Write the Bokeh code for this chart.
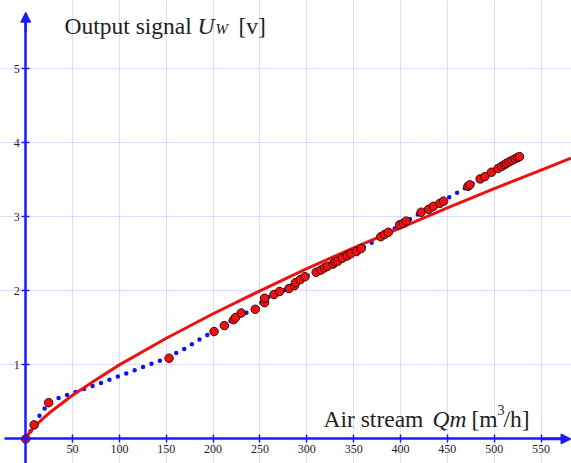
from bokeh.plotting import figure
from bokeh.models import FixedTicker, Label, Arrow, NormalHead
from bokeh.embed import file_html
from bokeh.resources import INLINE

# measured points (air stream Qm [m3/h], output signal Uw [V])
meas_q = [0, 9, 24.5, 153, 201, 212, 222, 224, 230, 245, 255, 255, 265, 271, 281, 287, 288,
          293, 298, 310, 315, 319, 322, 328, 330, 333, 338, 343, 347, 353, 358, 379, 383, 387,
          399, 403, 406, 422, 430, 435, 442, 446, 472, 474, 485, 490, 497, 504, 508, 511, 513,
          516, 519, 522, 525, 527]
meas_u = [0, 0.19, 0.49, 1.09, 1.45, 1.53, 1.61, 1.64, 1.70, 1.75, 1.84, 1.90, 1.95, 1.99, 2.03,
          2.07, 2.11, 2.15, 2.19, 2.25, 2.28, 2.31, 2.33, 2.36, 2.39, 2.40, 2.44, 2.47, 2.50, 2.53,
          2.57, 2.73, 2.76, 2.79, 2.89, 2.91, 2.94, 3.06, 3.10, 3.14, 3.18, 3.21, 3.41, 3.43, 3.51,
          3.54, 3.60, 3.65, 3.68, 3.70, 3.72, 3.74, 3.76, 3.78, 3.80, 3.81]

# interpolated characteristic (blue dotted)
curve_q = [0, 5, 15, 24.5, 30, 50, 75, 100, 125, 150, 170, 185, 200, 225, 240, 260, 280, 300,
           330, 360, 380, 400, 420, 440, 460, 480, 500, 527]
curve_u = [0, 0.10, 0.32, 0.49, 0.53, 0.62, 0.73, 0.85, 0.97, 1.09, 1.22, 1.34, 1.45, 1.64,
           1.73, 1.92, 2.03, 2.20, 2.38, 2.58, 2.73, 2.89, 3.04, 3.18, 3.32, 3.47, 3.62, 3.81]

# fitted curve (red)
fit_q = [0, 2, 5, 10, 25, 50, 75, 100, 150, 200, 250, 300, 350, 400, 450, 500, 550, 582]
fit_u = [0, 0.05, 0.10, 0.18, 0.35, 0.59, 0.80, 1.00, 1.36, 1.69, 2.00, 2.30, 2.58, 2.85,
         3.12, 3.38, 3.63, 3.79]

x_ticks = [50, 100, 150, 200, 250, 300, 350, 400, 450, 500, 550]
y_ticks = [1, 2, 3, 4, 5]

BLUE = "#1a1aff"
RED = "#ee1111"
SERIF = "Liberation Serif"

p = figure(width=571, height=463, x_range=(-26.9, 582.5), y_range=(-0.331, 5.918),
           output_backend="svg", toolbar_location=None, min_border=0)
p.outline_line_color = None
p.background_fill_color = "white"

for ax, ticks in ((p.xaxis, x_ticks), (p.yaxis, y_ticks)):
    ax.fixed_location = 0
    ax.ticker = FixedTicker(ticks=ticks)
    ax.axis_line_color = BLUE
    ax.axis_line_width = 2.5
    ax.major_tick_line_color = BLUE
    ax.major_tick_line_width = 1.5
    ax.major_tick_in = 4
    ax.major_tick_out = 4
    ax.minor_tick_line_color = None
    ax.major_label_text_font = SERIF
    ax.major_label_text_font_size = "12px"
    ax.major_label_text_color = "#222222"
    ax.major_label_standoff = 2
p.xaxis.bounds = (-23, 578)
p.yaxis.bounds = (-0.331, 5.70)

for g, ticks in ((p.xgrid, x_ticks), (p.ygrid, y_ticks)):
    g.ticker = FixedTicker(ticks=ticks)
    g.grid_line_color = "#b8b8f6"
    g.grid_line_width = 1
    g.grid_line_dash = "1 1"

p.line(curve_q, curve_u, line_color="#1010f0", line_width=4.5, line_dash="0 9", line_cap="round")
p.line(fit_q, fit_u, line_color=RED, line_width=3)
p.scatter(meas_q, meas_u, size=8.5, fill_color=RED, line_color="#3a0a0a", line_width=1)

p.add_layout(Arrow(end=NormalHead(size=10, fill_color=BLUE, line_color=BLUE),
                   x_start=0, y_start=5.5, x_end=0, y_end=5.76,
                   line_color=BLUE, line_width=2.5))
p.add_layout(Arrow(end=NormalHead(size=10, fill_color=BLUE, line_color=BLUE),
                   x_start=550, y_start=0, x_end=582, y_end=0,
                   line_color=BLUE, line_width=2.5))

def lab(txt, x, y, size="23.5px", style="normal"):
    p.add_layout(Label(x=x, y=y, x_units="screen", y_units="screen", text=txt,
                       text_font=SERIF, text_font_size=size, text_font_style=style,
                       text_color="#222222", text_baseline="middle"))

# y-axis title
lab("Output signal", 64, 437.5)
lab("U", 197, 437.5, style="italic")
lab("W", 215, 434.8, size="15px", style="italic")
lab("[v]", 238, 437.5)
# x-axis title
lab("Air stream", 323, 44.3)
lab("Qm", 432, 44.3, style="italic")
lab("[m", 471, 44.3)
lab("3", 497, 54, size="14px")
lab("/h]", 503, 44.3)

open("out.html", "w").write(file_html(p, INLINE))
